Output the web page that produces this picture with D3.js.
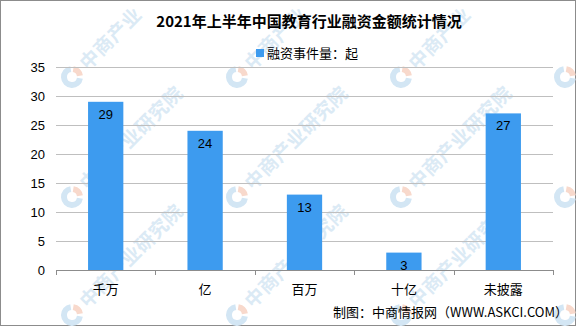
<!DOCTYPE html>
<html>
<head>
<meta charset="utf-8">
<script src="https://cdn.jsdelivr.net/npm/d3@7"></script>
<style>
  body { margin: 0; background: #fff; }
  svg { display: block; }
</style>
</head>
<body>
<svg id="chart"></svg>
<script>
// chart data
const categories = ["千万", "亿", "百万", "十亿", "未披露"];
const counts = [29, 24, 13, 3, 27];
const yTicks = [0, 5, 10, 15, 20, 25, 30, 35];
const titleText = "2021年上半年中国教育行业融资金额统计情况";
const legendText = "融资事件量：起";
const sourceText = "制图：中商情报网（WWW.ASKCI.COM）";
const watermarkText = "中商产业研究院";

const W = 576, H = 326;
const margin = { top: 67, right: 23, bottom: 56, left: 56 };
const width = W - margin.left - margin.right;
const height = H - margin.top - margin.bottom;
const barColor = "#3d9bef";
const font = "'Liberation Sans', 'Noto Sans CJK SC', sans-serif";
const cjk = "'Noto Sans CJK SC', sans-serif";

const svg = d3.select("#chart")
    .attr("width", W)
    .attr("height", H)
    .style("font-family", font);

// frame
svg.append("rect")
    .attr("x", 0.5).attr("y", 0.5)
    .attr("width", W - 1).attr("height", H - 1)
    .attr("fill", "#fff")
    .attr("stroke", "#8c8c8c");

// watermarks: logo + diagonal text, repeated on a lattice
const wm = svg.append("g").attr("class", "watermark");
const wmX = [-93, 72, 237, 401, 565];
const wmY = [77, 197, 315];
const arcBlue = d3.arc().innerRadius(5).outerRadius(11)
    .startAngle(Math.PI * 0.55).endAngle(Math.PI * 1.95);
const arcRed = d3.arc().innerRadius(5).outerRadius(11)
    .startAngle(Math.PI * 0.05).endAngle(Math.PI * 0.45);
const dir = [Math.SQRT1_2, -Math.SQRT1_2];
wmY.forEach(ly => wmX.forEach(lx => {
    if (lx > 0) {
        wm.append("path").attr("d", arcBlue())
            .attr("transform", `translate(${lx},${ly})`)
            .attr("fill", "#d3e6f4");
        wm.append("path").attr("d", arcRed())
            .attr("transform", `translate(${lx},${ly})`)
            .attr("fill", "#f8d9cc");
    }
    Array.from(watermarkText).forEach((ch, i) => {
        const d = 25 + i * 19.5;
        const cx = lx + d * dir[0], cy = ly + d * dir[1];
        if (cx < 11 || cx > W - 11 || cy < 11 || cy > H - 11) return;
        wm.append("text")
            .attr("transform", `translate(${cx},${cy}) rotate(-45)`)
            .attr("text-anchor", "middle")
            .attr("dy", "0.36em")
            .attr("font-size", 19)
            .attr("font-family", cjk)
            .attr("font-weight", "bold")
            .attr("fill", "#dbeaf5")
            .text(ch);
    });
}));

const g = svg.append("g")
    .attr("transform", `translate(${margin.left},${margin.top})`);

const x = d3.scaleBand()
    .domain(categories)
    .range([0, width])
    .paddingInner(0.645)
    .paddingOuter(0.3225);

const y = d3.scaleLinear()
    .domain([0, 35])
    .range([height, 0]);

// gridlines
g.append("g")
    .selectAll("line")
    .data(yTicks.filter(d => d > 0))
    .join("line")
    .attr("x1", 0).attr("x2", width)
    .attr("y1", d => Math.round(y(d)) + 0.5)
    .attr("y2", d => Math.round(y(d)) + 0.5)
    .attr("stroke", "#bfbfbf");

// y axis labels
const yAxis = g.append("g")
    .call(d3.axisLeft(y).tickValues(yTicks).tickSize(0).tickPadding(11));
yAxis.select(".domain").remove();
yAxis.selectAll("text")
    .attr("font-size", 13)
    .attr("font-family", font)
    .attr("fill", "#000");

// bars
g.selectAll(".bar")
    .data(counts)
    .join("rect")
    .attr("class", "bar")
    .attr("x", (d, i) => x(categories[i]))
    .attr("y", d => y(d))
    .attr("width", x.bandwidth())
    .attr("height", d => height - y(d))
    .attr("fill", barColor);

// value labels
g.selectAll(".val")
    .data(counts)
    .join("text")
    .attr("class", "val")
    .attr("x", (d, i) => x(categories[i]) + x.bandwidth() / 2)
    .attr("y", d => y(d) + 17)
    .attr("text-anchor", "middle")
    .attr("font-size", 13)
    .attr("fill", "#000")
    .text(d => d);

// x axis with ticks between categories
const step = width / categories.length;
const xAxis = g.append("g")
    .attr("transform", `translate(0,${height})`);
xAxis.append("line")
    .attr("x1", 0).attr("x2", width)
    .attr("y1", 0.5).attr("y2", 0.5)
    .attr("stroke", "#8c8c8c");
xAxis.selectAll(".tk")
    .data(d3.range(categories.length + 1))
    .join("line")
    .attr("class", "tk")
    .attr("x1", d => Math.round(d * step) + 0.5)
    .attr("x2", d => Math.round(d * step) + 0.5)
    .attr("y1", 0).attr("y2", 5)
    .attr("stroke", "#8c8c8c");
xAxis.selectAll(".lbl")
    .data(categories)
    .join("text")
    .attr("class", "lbl")
    .attr("x", d => x(d) + x.bandwidth() / 2)
    .attr("y", 24)
    .attr("text-anchor", "middle")
    .attr("font-size", 13)
    .attr("font-family", cjk)
    .attr("fill", "#000")
    .text(d => d);

// title
svg.append("text")
    .attr("x", 309)
    .attr("y", 27)
    .attr("text-anchor", "middle")
    .attr("font-size", 15)
    .attr("font-weight", "bold")
    .attr("font-family", "'Noto Sans CJK SC', serif")
    .attr("fill", "#000")
    .text(titleText);

// legend
svg.append("rect")
    .attr("x", 256).attr("y", 49)
    .attr("width", 8).attr("height", 8)
    .attr("fill", barColor);
svg.append("text")
    .attr("x", 267).attr("y", 58)
    .attr("font-size", 13)
    .attr("font-family", cjk)
    .attr("fill", "#000")
    .text(legendText);

// source
svg.append("text")
    .attr("x", 568).attr("y", 317)
    .attr("text-anchor", "end")
    .attr("font-size", 13)
    .attr("font-family", cjk)
    .attr("fill", "#000")
    .text(sourceText);
</script>
</body>
</html>
